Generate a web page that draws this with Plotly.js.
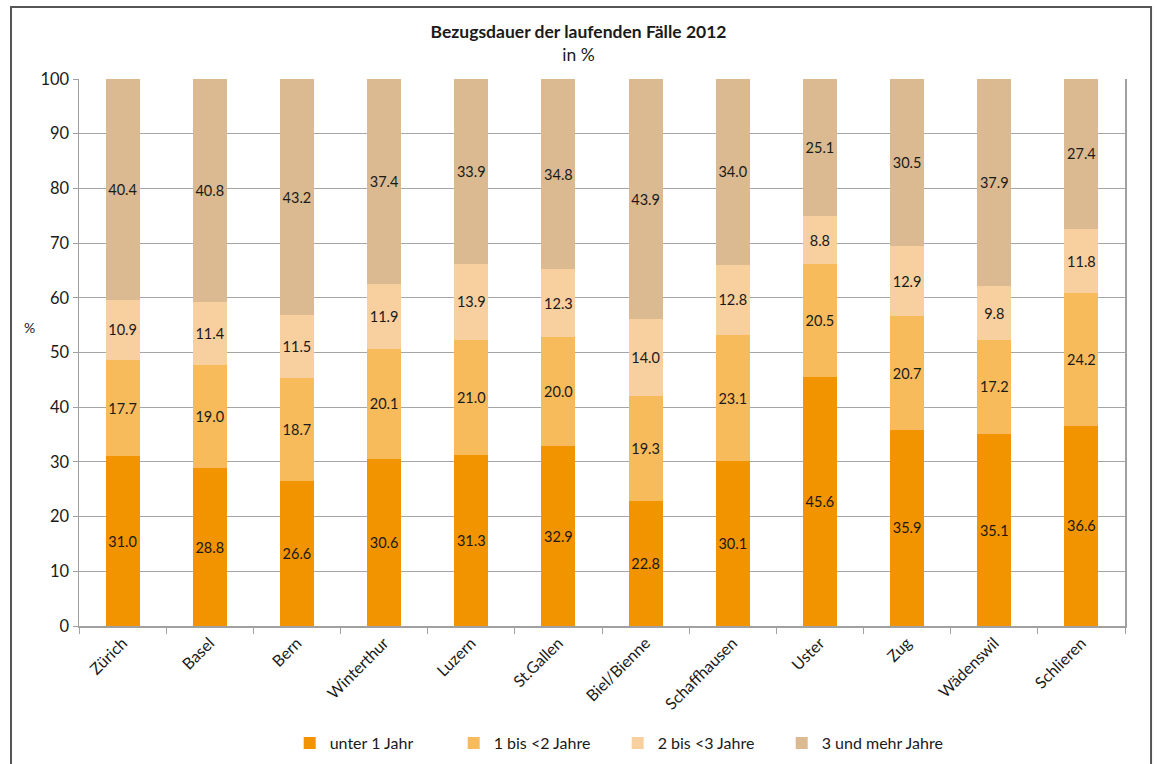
<!DOCTYPE html>
<html>
<head>
<meta charset="utf-8">
<script src="https://cdn.plot.ly/plotly-3.0.1.min.js"></script>
<style>html,body{margin:0;padding:0;background:#fff;}#chart{width:1157px;height:764px;}</style>
</head>
<body>
<div id="chart"></div>
<script>
const categories = ["Zürich","Basel","Bern","Winterthur","Luzern","St.Gallen","Biel/Bienne","Schaffhausen","Uster","Zug","Wädenswil","Schlieren"];
const seriesNames = ["unter 1 Jahr","1 bis <2 Jahre","2 bis <3 Jahre","3 und mehr Jahre"];
const unter1 = [31.0,28.8,26.6,30.6,31.3,32.9,22.8,30.1,45.6,35.9,35.1,36.6];
const bis2 = [17.7,19.0,18.7,20.1,21.0,20.0,19.3,23.1,20.5,20.7,17.2,24.2];
const bis3 = [10.9,11.4,11.5,11.9,13.9,12.3,14.0,12.8,8.8,12.9,9.8,11.8];
const mehr3 = [40.4,40.8,43.2,37.4,33.9,34.8,43.9,34.0,25.1,30.5,37.9,27.4];
const yTicks = [0,10,20,30,40,50,60,70,80,90,100];

const colors = ["#F29400","#F8BB5C","#F8CF9F","#DBBA91"];
const seriesValues = [unter1,bis2,bis3,mehr3];
const font = "Lato, 'Open Sans', sans-serif";

const traces = seriesValues.map((vals,i)=>({
  type:"bar",
  name:seriesNames[i],
  x:categories,
  y:vals,
  marker:{color:colors[i],line:{width:0}},
  width:0.39,
  text:vals.map(v=>v.toFixed(1)),
  texttemplate:"%{text}",
  textposition:"inside",
  insidetextanchor:"middle",
  textangle:0,
  constraintext:"none",
  textfont:{family:font,size:14.5,color:"#1a1a1a"},
  hoverinfo:"x+y+name"
}));

const layout = {
  width:1157,height:764,
  paper_bgcolor:"#fff",plot_bgcolor:"#fff",
  barmode:"stack",
  margin:{l:79,r:32,t:79,b:138,autoexpand:false},
  showlegend:true,
  font:{family:font,color:"#1a1a1a"},
  title:{
    text:"<b>Bezugsdauer der laufenden Fälle 2012</b><br>in %",
    font:{family:font,size:17.5,color:"#1a1a1a"},
    x:0.5,xanchor:"center",y:1-38/764,yanchor:"middle"
  },
  xaxis:{
    type:"category",
    automargin:false,
    tickangle:-45,
    tickson:"boundaries",
    ticks:"outside",ticklen:6,tickcolor:"#a0a0a0",
    showline:true,linecolor:"#a0a0a0",linewidth:1.5,
    showgrid:false,
    tickfont:{family:font,size:16,color:"#1a1a1a"},
    range:[-0.5,11.5]
  },
  yaxis:{
    automargin:false,
    range:[0,100],
    tickvals:yTicks,
    ticktext:yTicks.map(String),
    ticks:"outside",ticklen:5,tickcolor:"#a0a0a0",
    showline:true,mirror:true,linecolor:"#a0a0a0",linewidth:1.5,
    showgrid:true,gridcolor:"#a6a6a6",gridwidth:1,
    zeroline:false,
    tickfont:{family:font,size:16.5,color:"#1a1a1a"}
  },
  legend:{
    orientation:"h",x:0.515,xanchor:"center",y:-0.214,yanchor:"middle",
    font:{family:font,size:16,color:"#1a1a1a"},
    itemwidth:30,tracegroupgap:0,traceorder:"normal",
    entrywidth:119,entrywidthmode:"pixels"
  },
  annotations:[{
    text:"%",xref:"paper",yref:"paper",x:-0.047,y:0.545,showarrow:false,
    font:{family:font,size:14,color:"#1a1a1a"},xanchor:"center",yanchor:"middle"
  }],
  shapes:[{
    type:"rect",xref:"paper",yref:"paper",
    x0:-0.065,x1:1.0249,y0:-0.27,y1:1.1316,
    line:{color:"#555",width:2},fillcolor:"rgba(0,0,0,0)",layer:"below"
  }]
};

Plotly.newPlot("chart",traces,layout,{displayModeBar:false,staticPlot:true});
</script>
</body>
</html>
